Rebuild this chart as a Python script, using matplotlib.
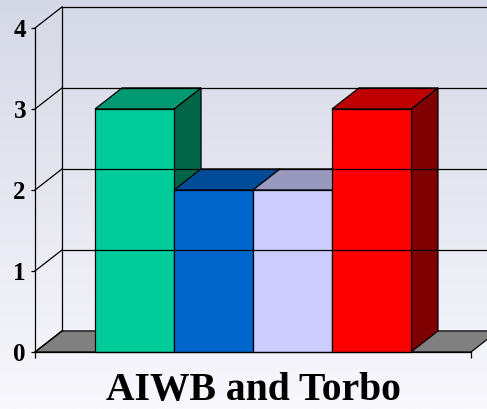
import numpy as np
import matplotlib
matplotlib.use('Agg')
import matplotlib.pyplot as plt
from matplotlib.patches import Polygon, Rectangle
from matplotlib.colors import LinearSegmentedColormap

## chart data
category = 'AIWB and Torbo'
values = [3, 2, 2, 3]
front_colors = ['#00CC99', '#0066CC', '#CCCCFF', '#FF0000']
top_colors = ['#009972', '#004C99', '#9999BF', '#BF0000']
side_colors = ['#006647', '#003366', '#66667F', '#7F0000']
yticks = [0, 1, 2, 3, 4]

## 3d look
dx, dy = 0.342, 0.26
x_lo, x_hi = -1.26, 4.26

fig = plt.figure(figsize=(4.87, 4.09), dpi=100)

# background gradient
bg = fig.add_axes([0, 0, 1, 1], zorder=0)
cmap = LinearSegmentedColormap.from_list('bg', ['#F8F8FD', '#D5D8E6'])
grad = np.linspace(0, 1, 256).reshape(-1, 1)
bg.imshow(grad, aspect='auto', cmap=cmap, origin='lower', extent=[0, 1, 0, 1])
bg.axis('off')

ax = fig.add_axes([35/487, 57/409, 436/487, 324/409], zorder=1)
ax.patch.set_alpha(0)
ax.set_xlim(x_lo, x_hi)
ax.set_ylim(0, 4)

lw = 0.9
# back wall grid + left wall diagonals
for v in yticks:
    ax.plot([x_lo, x_lo + dx], [v, v + dy], color='black', lw=lw, clip_on=False)
    if v > 0:
        ax.plot([x_lo + dx, x_hi + dx + 1], [v + dy, v + dy], color='black', lw=lw, clip_on=False)
ax.plot([x_lo + dx, x_lo + dx], [dy, 4 + dy], color='black', lw=lw, clip_on=False)

# floor
floor = Polygon([(x_lo, 0), (x_hi, 0), (x_hi + dx, dy), (x_lo + dx, dy)],
                closed=True, facecolor='#808080', edgecolor='black', lw=lw, clip_on=False)
ax.add_patch(floor)

# bars
for i, v in enumerate(values):
    l = i - 0.5
    side = Polygon([(l + 1, 0), (l + 1 + dx, dy), (l + 1 + dx, v + dy), (l + 1, v)],
                   closed=True, facecolor=side_colors[i], edgecolor='black', lw=lw, clip_on=False)
    top = Polygon([(l, v), (l + 1, v), (l + 1 + dx, v + dy), (l + dx, v + dy)],
                  closed=True, facecolor=top_colors[i], edgecolor='black', lw=lw, clip_on=False)
    front = Rectangle((l, 0), 1, v, facecolor=front_colors[i], edgecolor='black', lw=lw, clip_on=False)
    ax.add_patch(side)
    ax.add_patch(top)
    ax.add_patch(front)

for s in ['top', 'right']:
    ax.spines[s].set_visible(False)
for s in ['left', 'bottom']:
    ax.spines[s].set_linewidth(lw)
    ax.spines[s].set_zorder(5)

ax.set_yticks(yticks)
ax.set_yticklabels([str(t) for t in yticks], fontsize=18, fontweight='bold', family='Liberation Serif')
ax.tick_params(axis='y', length=3, width=lw, pad=3.5)
ax.set_xticks([x_lo, x_hi])
ax.set_xticklabels(['', ''])
ax.tick_params(axis='x', length=4, width=lw)
ax.set_xlabel(category, fontsize=28.5, fontweight='bold', family='Liberation Serif', labelpad=7)

plt.savefig('out.png', dpi=100)
plt.close('all')
